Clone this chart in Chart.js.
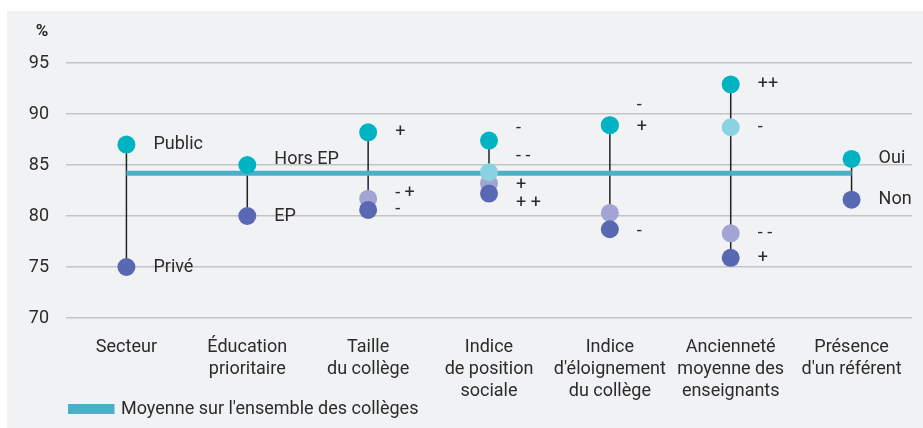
<!DOCTYPE html>
<html lang="fr">
<head>
<meta charset="utf-8">
<script src="https://cdn.jsdelivr.net/npm/chart.js@4.4.1/dist/chart.umd.min.js"></script>
<style>
  html, body { margin: 0; padding: 0; background: #ffffff; }
  #panel {
    position: absolute; left: 7px; top: 11px; width: 916px; height: 417px;
    background: #f1f2f4;
  }
  #panel canvas { display: block; }
</style>
</head>
<body>
<div id="panel"><canvas id="chart" width="916" height="417"></canvas></div>
<script>
// Données (taux en %)
const categories = [
  ['Secteur'],
  ['Éducation', 'prioritaire'],
  ['Taille', 'du collège'],
  ['Indice', 'de position', 'sociale'],
  ['Indice', "d'éloignement", 'du collège'],
  ['Ancienneté', 'moyenne des', 'enseignants'],
  ['Présence', "d'un référent"]
];
const tealValues     = [87, 85, 88.2, 87.4, 88.9, 92.9, 85.6];
const lightValues    = [null, null, null, 84.3, 88.9, 88.7, null];
const lavenderValues = [null, null, 81.7, 83.2, 80.3, 78.3, null];
const darkValues     = [75, 80, 80.6, 82.2, 78.7, 75.9, 81.6];
const meanValue = 84.2;
const meanLabel = "Moyenne sur l'ensemble des collèges";

// Libellés des modalités
const tealLabels     = ['Public', 'Hors EP', '+', '-', '+', '++', 'Oui'];
const lightLabels    = ['', '', '', '- -', '-', '-', ''];
const lavenderLabels = ['', '', '- +', '+', '', '- -', ''];
const darkLabels     = ['Privé', 'EP', '-', '+ +', '-', '+', 'Non'];

const yTicks = [70, 75, 80, 85, 90, 95];

// Décalages verticaux des libellés (px)
const labelShift = {
  teal:     [0, -6, 0, -12, 2, 0, 0],
  light:    [0, 0, 0, -16, -20, 0, 0],
  lavender: [0, 0, -5, 2, 0, 0, 0],
  dark:     [0, 0, 0, 10, 2, 1, 0]
};

const TEXT = '#2b2b2b';
const FONT = 'Roboto, "Noto Sans", sans-serif';

function pointSet(label, data, color, order, key, names) {
  return {
    label: label,
    data: data,
    showLine: false,
    order: order,
    pointRadius: 9,
    pointHoverRadius: 9,
    pointBorderWidth: 0,
    pointBackgroundColor: color,
    borderColor: color,
    backgroundColor: color,
    names: names,
    shiftKey: key
  };
}

// Tiges verticales reliant les modalités d'une même variable
const stemsPlugin = {
  id: 'stems',
  beforeDatasetsDraw(chart) {
    const ctx = chart.ctx;
    const y = chart.scales.y;
    const x = chart.scales.x;
    const series = [tealValues, lightValues, lavenderValues, darkValues];
    ctx.save();
    ctx.strokeStyle = '#222222';
    ctx.lineWidth = 1.5;
    categories.forEach((c, i) => {
      const vals = series.map(s => s[i]).filter(v => v !== null);
      if (vals.length < 2) return;
      const px = x.getPixelForValue(i);
      ctx.beginPath();
      ctx.moveTo(px, y.getPixelForValue(Math.max(...vals)));
      ctx.lineTo(px, y.getPixelForValue(Math.min(...vals)));
      ctx.stroke();
    });
    ctx.restore();
  }
};

// Libellés à droite des points + unité
const labelsPlugin = {
  id: 'pointLabels',
  afterLayout(chart) {
    // légende alignée sous l'axe, comme sur l'original
    chart.legend.left = 61;
  },
  afterDatasetsDraw(chart) {
    const ctx = chart.ctx;
    ctx.save();
    ctx.fillStyle = TEXT;
    ctx.font = '18px ' + FONT;
    ctx.textAlign = 'left';
    ctx.textBaseline = 'middle';
    chart.data.datasets.forEach((ds, di) => {
      if (!ds.names) return;
      const meta = chart.getDatasetMeta(di);
      ds.names.forEach((txt, j) => {
        if (!txt || ds.data[j] === null) return;
        const pt = meta.data[j];
        ctx.fillText(txt, pt.x + 27, pt.y + labelShift[ds.shiftKey][j]);
      });
    });
    // unité
    ctx.font = 'bold 17px ' + FONT;
    ctx.textAlign = 'center';
    ctx.fillText('%', 35, 21);
    ctx.restore();
  }
};

new Chart(document.getElementById('chart'), {
  type: 'line',
  data: {
    labels: categories,
    datasets: [
      {
        label: meanLabel,
        data: categories.map(() => meanValue),
        borderColor: '#4bafc7',
        backgroundColor: '#4bafc7',
        borderWidth: 5,
        pointRadius: 0,
        pointHoverRadius: 0,
        order: 10
      },
      pointSet('teal', tealValues, '#00b3c3', 1, 'teal', tealLabels),
      pointSet('light', lightValues, '#88d3df', 2, 'light', lightLabels),
      pointSet('dark', darkValues, '#5868b3', 3, 'dark', darkLabels),
      pointSet('lavender', lavenderValues, '#a2a5d3', 4, 'lavender', lavenderLabels)
    ]
  },
  options: {
    responsive: false,
    animation: false,
    layout: { padding: { left: 0, right: 11, top: 52, bottom: 0 } },
    plugins: {
      tooltip: { enabled: false },
      legend: {
        position: 'bottom',
        align: 'start',
        labels: {
          filter: item => item.datasetIndex === 0,
          boxWidth: 44,
          boxHeight: 5,
          padding: 0,
          color: TEXT,
          font: { family: FONT, size: 18 }
        }
      }
    },
    scales: {
      x: {
        offset: true,
        grid: { display: false },
        border: { display: false },
        ticks: {
          color: TEXT,
          padding: 10,
          maxRotation: 0,
          autoSkip: false,
          font: { family: FONT, size: 18, lineHeight: 22 / 18 }
        },
        afterFit: scale => { scale.height = 82; }
      },
      y: {
        min: 70,
        max: 95,
        afterBuildTicks: scale => { scale.ticks = yTicks.map(v => ({ value: v })); },
        grid: { color: '#c4c4c4', lineWidth: 1.5, drawTicks: false },
        border: { display: false },
        ticks: {
          color: TEXT,
          padding: 17,
          font: { family: FONT, size: 18 }
        },
        afterFit: scale => { scale.width = 59; }
      }
    }
  },
  plugins: [stemsPlugin, labelsPlugin]
});
</script>
</body>
</html>
